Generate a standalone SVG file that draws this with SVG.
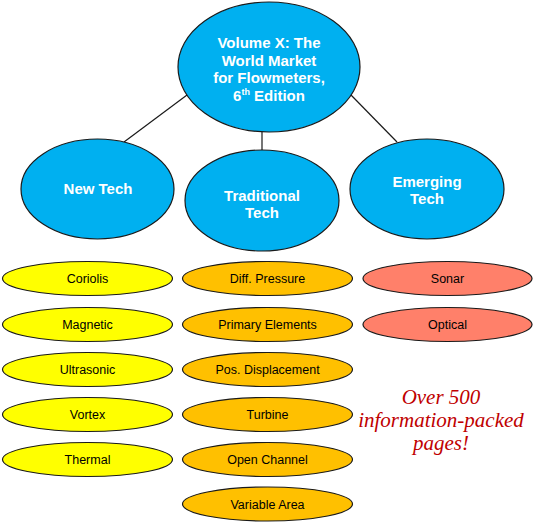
<svg xmlns="http://www.w3.org/2000/svg" width="535" height="525" viewBox="0 0 535 525">
<style>
.big{fill:#00B0F0;stroke:#1a1a1a;stroke-width:1.2}
.bt{font-family:"Liberation Sans",Arial,sans-serif;font-weight:bold;font-size:15px;fill:#fff;text-anchor:middle}
.y{fill:#FFFF00;stroke:#1a1a1a;stroke-width:1.2}
.o{fill:#FFC000;stroke:#1a1a1a;stroke-width:1.2}
.s{fill:#FF806A;stroke:#1a1a1a;stroke-width:1.2}
.st{font-family:"Liberation Sans",Arial,sans-serif;font-size:12.5px;fill:#000;text-anchor:middle}
.con{stroke:#1a1a1a;stroke-width:1.2;fill:none}
.promo{font-family:"Liberation Serif","Times New Roman",serif;font-style:italic;font-size:21px;fill:#C00000;text-anchor:middle}
</style>
<rect width="535" height="525" fill="#fff"/>
<g id="connectors">
<line class="con" x1="187" y1="95" x2="124" y2="142"/>
<line class="con" x1="262" y1="131" x2="262" y2="150"/>
<line class="con" x1="351" y1="95" x2="397" y2="142"/>
</g>
<g id="root">
<ellipse class="big" cx="269" cy="67" rx="91" ry="65"/>
<text class="bt" x="269" y="48">Volume X: The</text>
<text class="bt" x="269" y="65.5">World Market</text>
<text class="bt" x="269" y="83">for Flowmeters,</text>
<text class="bt" x="269" y="100.5">6<tspan font-size="9" dy="-6">th</tspan><tspan dy="6"> Edition</tspan></text>
</g>
<g id="newtech">
<ellipse class="big" cx="97.5" cy="189" rx="76.5" ry="50"/>
<text class="bt" x="98" y="194">New Tech</text>
</g>
<g id="traditional">
<ellipse class="big" cx="262" cy="200.5" rx="77" ry="50.5"/>
<text class="bt" x="262" y="200.5">Traditional</text>
<text class="bt" x="262" y="218">Tech</text>
</g>
<g id="emerging">
<ellipse class="big" cx="427" cy="189" rx="77" ry="50"/>
<text class="bt" x="427" y="186.5">Emerging</text>
<text class="bt" x="427" y="204">Tech</text>
</g>
<g id="coriolis"><ellipse class="y" cx="87.5" cy="278.5" rx="85" ry="17"/><text class="st" x="87.5" y="283">Coriolis</text></g>
<g id="magnetic"><ellipse class="y" cx="87.5" cy="324.5" rx="85" ry="17"/><text class="st" x="87.5" y="329">Magnetic</text></g>
<g id="ultrasonic"><ellipse class="y" cx="87.5" cy="369.5" rx="85" ry="17"/><text class="st" x="87.5" y="374">Ultrasonic</text></g>
<g id="vortex"><ellipse class="y" cx="87.5" cy="414.5" rx="85" ry="17"/><text class="st" x="87.5" y="419">Vortex</text></g>
<g id="thermal"><ellipse class="y" cx="87.5" cy="459.5" rx="85" ry="17"/><text class="st" x="87.5" y="464">Thermal</text></g>
<g id="diffpressure"><ellipse class="o" cx="267.5" cy="278.5" rx="85" ry="17"/><text class="st" x="267.5" y="283">Diff. Pressure</text></g>
<g id="primary"><ellipse class="o" cx="267.5" cy="324.5" rx="85" ry="17"/><text class="st" x="267.5" y="329">Primary Elements</text></g>
<g id="posdisp"><ellipse class="o" cx="267.5" cy="369.5" rx="85" ry="17"/><text class="st" x="267.5" y="374">Pos. Displacement</text></g>
<g id="turbine"><ellipse class="o" cx="267.5" cy="414.5" rx="85" ry="17"/><text class="st" x="267.5" y="419">Turbine</text></g>
<g id="openchannel"><ellipse class="o" cx="267.5" cy="459.5" rx="85" ry="17"/><text class="st" x="267.5" y="464">Open Channel</text></g>
<g id="variablearea"><ellipse class="o" cx="267.5" cy="504" rx="85" ry="17"/><text class="st" x="267.5" y="508.5">Variable Area</text></g>
<g id="sonar"><ellipse class="s" cx="447.5" cy="278.5" rx="84.5" ry="17"/><text class="st" x="447.5" y="283">Sonar</text></g>
<g id="optical"><ellipse class="s" cx="447.5" cy="324.5" rx="84.5" ry="17"/><text class="st" x="447.5" y="329">Optical</text></g>
<g id="promo">
<text class="promo" x="441" y="404">Over 500</text>
<text class="promo" x="441" y="427">information-packed</text>
<text class="promo" x="441" y="450">pages!</text>
</g>
</svg>
